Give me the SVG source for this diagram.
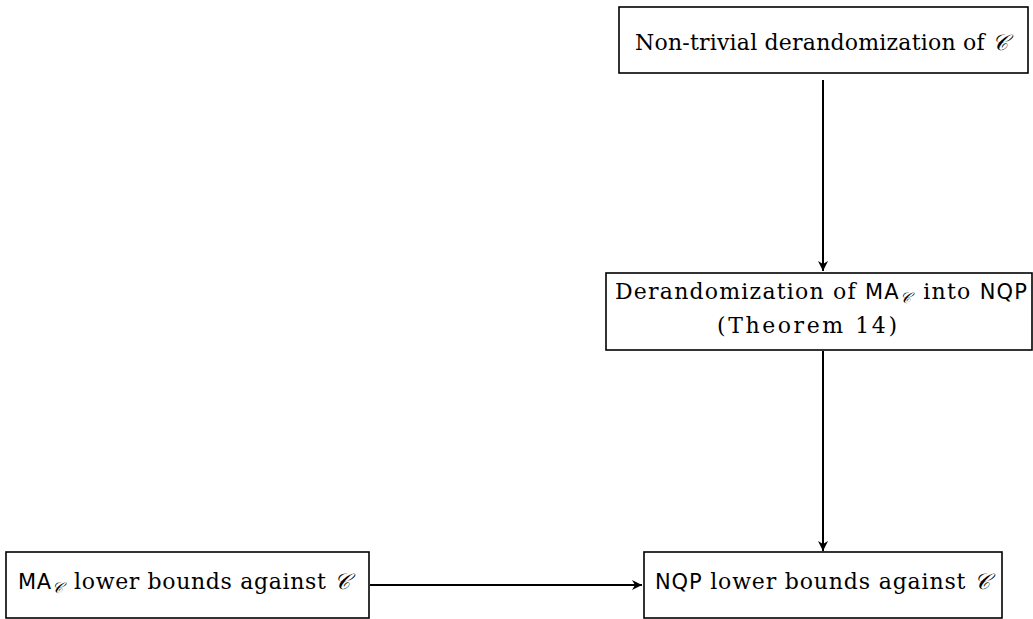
<svg xmlns="http://www.w3.org/2000/svg" width="1033" height="619" viewBox="0 0 1033 619">
<style>
.box{fill:#fff;stroke:#000;stroke-width:1.6}
.t{font-family:"DejaVu Serif","Liberation Serif",serif;font-size:22px;fill:#000;white-space:pre}
.sf{font-family:"DejaVu Sans","Liberation Sans",sans-serif;font-size:21px}
.scr{font-family:"DejaVu Serif","Noto Sans",serif;font-style:italic}
.sub{font-size:15px}
.edge{stroke:#000;stroke-width:2;fill:none}
</style>
<defs>
<marker id="ah" markerWidth="12" markerHeight="12" refX="10" refY="6" orient="auto" markerUnits="userSpaceOnUse">
<path d="M0,1 L10,6 L0,11 L3,6 Z" fill="#000"/>
</marker>
</defs>
<g id="connectors">
<line class="edge" x1="823" y1="80" x2="823" y2="271" marker-end="url(#ah)"/>
<line class="edge" x1="823" y1="351" x2="823" y2="551" marker-end="url(#ah)"/>
<line class="edge" x1="370" y1="585" x2="642" y2="585" marker-end="url(#ah)"/>
</g>
<g id="n1">
<rect class="box" x="619" y="7" width="409" height="66"/>
<text class="t" x="635" y="50" textLength="373" lengthAdjust="spacing">Non-trivial derandomization of <tspan class="scr">𝒞</tspan></text>
</g>
<g id="n2">
<rect class="box" x="606" y="273" width="426" height="77"/>
<text class="t" x="615" y="299" textLength="412" lengthAdjust="spacing">Derandomization of <tspan class="sf">MA</tspan><tspan class="scr sub" dy="4">𝒞</tspan><tspan dy="-4" dx="3"> into </tspan><tspan class="sf">NQP</tspan></text>
<text class="t" x="717" y="333" textLength="180" lengthAdjust="spacing">(Theorem 14)</text>
</g>
<g id="n3">
<rect class="box" x="6" y="552" width="363" height="66"/>
<text class="t" x="18" y="589" textLength="332" lengthAdjust="spacing"><tspan class="sf">MA</tspan><tspan class="scr sub" dy="4">𝒞</tspan><tspan dy="-4" dx="3"> lower bounds against </tspan><tspan class="scr">𝒞</tspan></text>
</g>
<g id="n4">
<rect class="box" x="644" y="552" width="358" height="66"/>
<text class="t" x="655" y="589" textLength="335" lengthAdjust="spacing"><tspan class="sf">NQP</tspan> lower bounds against <tspan class="scr">𝒞</tspan></text>
</g>
</svg>
